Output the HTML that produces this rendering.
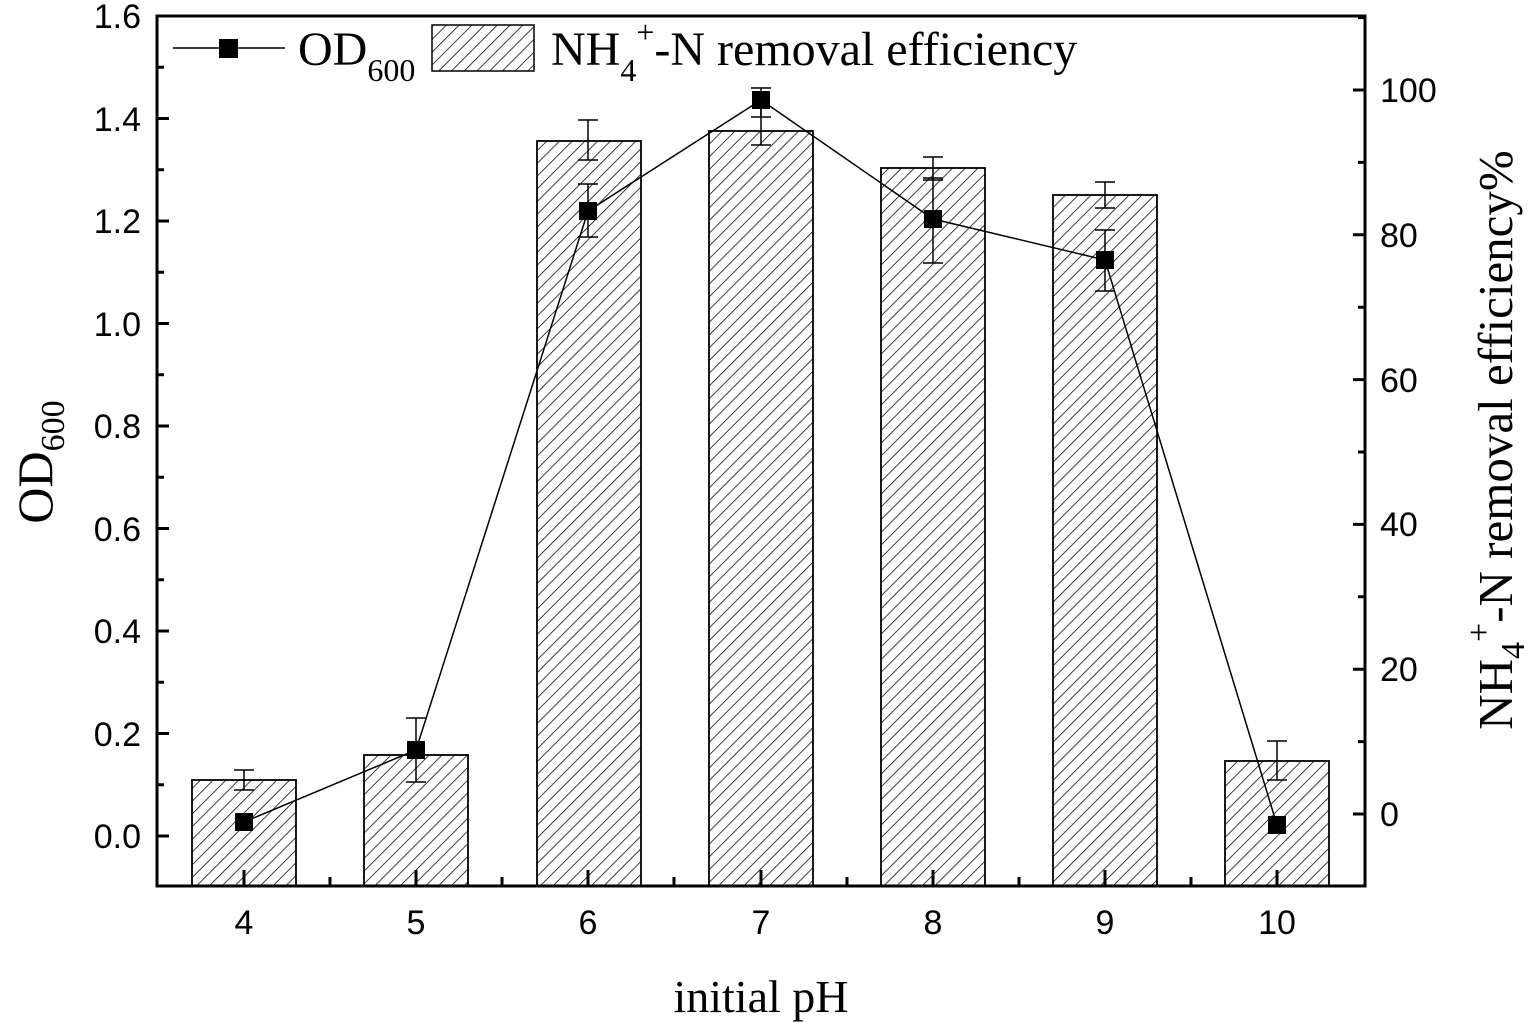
<!DOCTYPE html>
<html><head><style>body{margin:0;background:#fff}svg{display:block}</style></head><body>
<svg width="1535" height="1023" xmlns="http://www.w3.org/2000/svg" font-family="Liberation Sans, sans-serif">
<defs><pattern id="h" patternUnits="userSpaceOnUse" width="9" height="9" patternTransform="rotate(45)"><rect width="9" height="9" fill="#fff"/><line x1="0" y1="0" x2="0" y2="9" stroke="#000" stroke-width="1.5"/></pattern></defs>
<g stroke="#000" stroke-width="1.8">
<rect x="192" y="780" width="104" height="106" fill="url(#h)"/>
<rect x="364" y="755" width="104" height="131" fill="url(#h)"/>
<rect x="537" y="141" width="104" height="745" fill="url(#h)"/>
<rect x="709" y="131" width="104" height="755" fill="url(#h)"/>
<rect x="881" y="168" width="104" height="718" fill="url(#h)"/>
<rect x="1053" y="195" width="104" height="691" fill="url(#h)"/>
<rect x="1225" y="761" width="104" height="125" fill="url(#h)"/>
</g>
<g stroke="#000" stroke-width="1.5" fill="none">
<path d="M244 770V790M234 770H254M234 790H254"/>
<path d="M588 120V160M578 120H598M578 160H598"/>
<path d="M761 92V145M751 145H771"/>
<path d="M933 157V180M923 157H943M923 180H943"/>
<path d="M1105 182V208M1095 182H1115M1095 208H1115"/>
<path d="M1277 741V780M1267 741H1287M1267 780H1287"/>
<path d="M416 718V782M406 718H426M406 782H426"/>
<path d="M588 184V237M578 184H598M578 237H598"/>
<path d="M761 88V117M751 88H771M751 117H771"/>
<path d="M933 178V263M923 178H943M923 263H943"/>
<path d="M1105 230V291M1095 230H1115M1095 291H1115"/>
<polyline points="244,822 416,750 588,211 761,100 933,219 1105,260 1277,825"/>
</g>
<g fill="#000">
<rect x="235" y="813" width="18" height="18"/><rect x="407" y="741" width="18" height="18"/><rect x="579" y="202" width="18" height="18"/><rect x="752" y="91" width="18" height="18"/><rect x="924" y="210" width="18" height="18"/><rect x="1096" y="251" width="18" height="18"/><rect x="1268" y="816" width="18" height="18"/>
</g>
<rect x="157" y="16" width="1208" height="870" fill="none" stroke="#000" stroke-width="3"/>
<g stroke="#000" stroke-width="3">
<path d="M157 836h12M157 733.5h12M157 631h12M157 528.5h12M157 426h12M157 323.5h12M157 221h12M157 118.5h12M157 16h12"/>
<path d="M157 784.75h7M157 682.25h7M157 579.75h7M157 477.25h7M157 374.75h7M157 272.25h7M157 169.75h7M157 67.25h7"/>
<path d="M1365 814h-12M1365 669.2h-12M1365 524.4h-12M1365 379.6h-12M1365 234.8h-12M1365 90h-12"/>
<path d="M1365 741.6h-7M1365 596.8h-7M1365 452h-7M1365 307.2h-7M1365 162.4h-7M1365 17.6h-7M1365 886h-7"/>
<path d="M244 886v-16M416 886v-16M588 886v-16M761 886v-16M933 886v-16M1105 886v-16M1277 886v-16"/>
<path d="M330 886v-9M502 886v-9M674 886v-9M847 886v-9M1019 886v-9M1191 886v-9"/>
</g>
<g font-size="34" text-anchor="end">
<text x="141" y="848">0.0</text><text x="141" y="746">0.2</text><text x="141" y="643">0.4</text><text x="141" y="541">0.6</text><text x="141" y="438">0.8</text><text x="141" y="336">1.0</text><text x="141" y="233">1.2</text><text x="141" y="131">1.4</text><text x="141" y="28">1.6</text>
</g>
<g font-size="34" text-anchor="start">
<text x="1380" y="826">0</text><text x="1380" y="681">20</text><text x="1380" y="536">40</text><text x="1380" y="392">60</text><text x="1380" y="247">80</text><text x="1380" y="102">100</text>
</g>
<g font-size="34" text-anchor="middle">
<text x="244" y="934">4</text><text x="416" y="934">5</text><text x="588" y="934">6</text><text x="761" y="934">7</text><text x="933" y="934">8</text><text x="1105" y="934">9</text><text x="1277" y="934">10</text>
</g>
<g font-family="Liberation Serif, serif" fill="#000">
<text x="761" y="1012" font-size="46" text-anchor="middle">initial pH</text>
<text transform="translate(52,462) rotate(-90)" font-size="50" text-anchor="middle">OD<tspan font-size="34" dy="12">600</tspan></text>
<text transform="translate(1512,440) rotate(-90)" font-size="49" text-anchor="middle">NH<tspan font-size="34" dy="12">4</tspan><tspan font-size="34" dy="-34">+</tspan><tspan dy="22">-N removal efficiency%</tspan></text>
<line x1="173" y1="48" x2="285" y2="48" stroke="#000" stroke-width="1.5"/>
<rect x="219" y="39" width="19" height="19"/>
<text x="298" y="65" font-size="48">OD<tspan font-size="32" dy="16">600</tspan></text>
<rect x="432" y="25" width="102" height="46" fill="url(#h)" stroke="#000" stroke-width="1.5"/>
<text x="551" y="65" font-size="48">NH<tspan font-size="32" dy="16">4</tspan><tspan font-size="32" dy="-38">+</tspan><tspan dy="22">-N removal efficiency</tspan></text>
</g>
</svg>
</body></html>
